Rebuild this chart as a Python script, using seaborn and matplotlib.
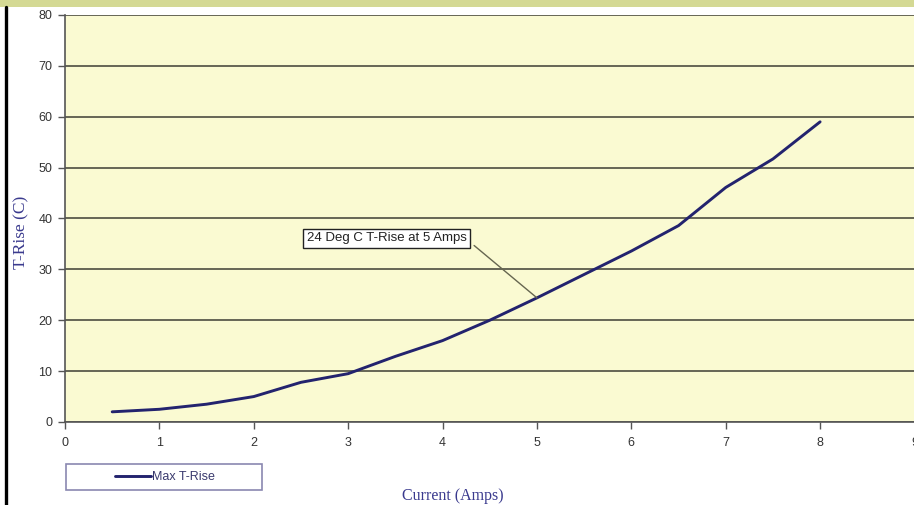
import numpy as np
import pandas as pd
import matplotlib
matplotlib.use("Agg")
import matplotlib.pyplot as plt
from matplotlib.patches import Rectangle
from matplotlib.lines import Line2D
import seaborn as sns

# data
current = [0.5, 1.0, 1.5, 2.0, 2.5, 3.0, 3.5, 4.0, 4.5, 5.0, 5.5, 6.0, 6.5, 7.0, 7.5, 8.0]
t_rise = [2.0, 2.5, 3.5, 5.0, 7.8, 9.5, 12.9, 16.0, 20.0, 24.4, 29.0, 33.6, 38.6, 46.1, 51.7, 59.0]
x_ticks = list(range(0, 10))
y_ticks = list(range(0, 90, 10))
series_name = "Max T-Rise"
note = "24 Deg C T-Rise at 5 Amps"

df = pd.DataFrame({"Current": current, "T-Rise": t_rise, "series": series_name})

sns.set_style("white")
plt.rcParams["font.family"] = ["Liberation Sans", "DejaVu Sans"]

navy = "#23236e"
label_blue = "#3a3a8e"

fig = plt.figure(figsize=(9.14, 5.05), dpi=100)
ax = fig.add_axes([65 / 914, 1 - 422 / 505, 849.5 / 914, 407 / 505])
ax.set_facecolor("#fafad2")

sns.lineplot(data=df, x="Current", y="T-Rise", hue="series", palette=[navy],
             linewidth=2.1, ax=ax, legend=True)

ax.set_xlim(0, 9)
ax.set_ylim(0, 80)
ax.set_xticks(x_ticks)
ax.set_yticks(y_ticks)
ax.tick_params(axis="both", labelsize=9, colors="#555555", labelcolor="#333333",
               length=5, width=1, direction="out", left=True, bottom=True)
ax.tick_params(axis="x", pad=6)
ax.tick_params(axis="y", pad=4)
ax.yaxis.grid(True, color="#4d4d40", linewidth=1.2)
ax.xaxis.grid(False)
ax.set_axisbelow(True)
for side in ["top", "right"]:
    ax.spines[side].set_visible(False)
for side in ["left", "bottom"]:
    ax.spines[side].set_color("#555555")
    ax.spines[side].set_linewidth(1.2)

ax.set_xlabel("")
ax.set_ylabel("")
fig.text(453 / 914, 1 - 496 / 505, "Current (Amps)", ha="center", va="center",
         family="Liberation Serif", fontsize=11.5, color=label_blue)
fig.text(21 / 914, 1 - 232 / 505, "T-Rise (C)", ha="center", va="center",
         rotation=90, family="Liberation Serif", fontsize=12.5, color=label_blue)

# callout at 5 Amps
ax.annotate(note, xy=(5, 24.4), xytext=(3.406, 36.07), ha="center", va="center",
            fontsize=9.5, color="#222222",
            bbox=dict(boxstyle="square,pad=0.3", fc="white", ec="#222222", lw=1),
            arrowprops=dict(arrowstyle="-", color="#666650", lw=1,
                            relpos=(1.0, 0.45), shrinkA=3, shrinkB=0))

# legend below the plot, in its own box
handles, labels = ax.get_legend_handles_labels()
ax.legend(handles, labels, loc="center", bbox_to_anchor=(165 / 914, 1 - 477 / 505),
          bbox_transform=fig.transFigure, frameon=False, fontsize=9,
          handlelength=2.9, handletextpad=0.1, labelcolor="#3a3a6e")
fig.add_artist(Rectangle((66 / 914, 1 - 490 / 505), 196 / 914, 26 / 505,
                         transform=fig.transFigure, fill=False,
                         ec="#8a88b0", lw=1.2))

# slide frame bits
fig.add_artist(Rectangle((0, 1 - 7 / 505), 1, 7 / 505, transform=fig.transFigure,
                         color="#d4d994", lw=0))
fig.add_artist(Line2D([5.5 / 914, 5.5 / 914], [0, 1 - 7 / 505],
                      transform=fig.transFigure, color="black", lw=2.4))

fig.savefig("out.png", dpi=100)
